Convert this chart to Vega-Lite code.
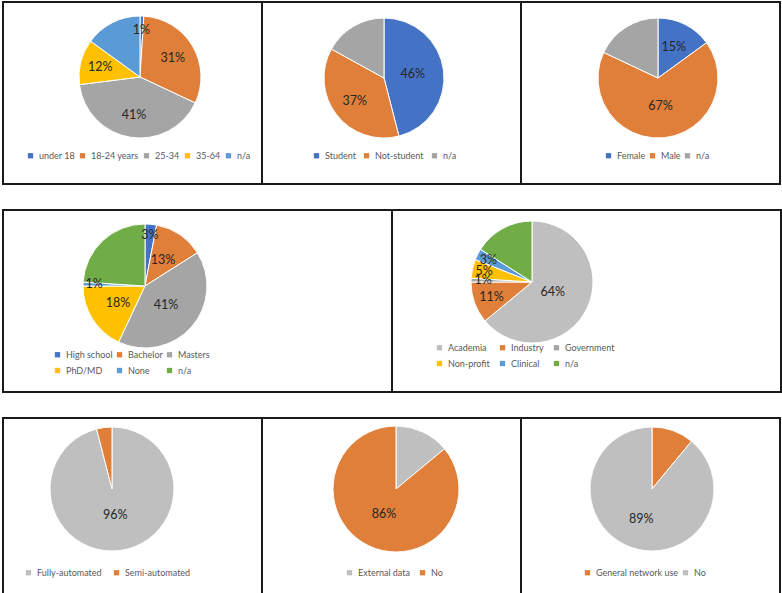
{
  "$schema": "https://vega.github.io/schema/vega-lite/v6.json",
  "padding": {"left": 2, "top": 1, "right": 0, "bottom": 0},
  "background": "white",
  "config": {
    "view": {"stroke": "#1a1a1a", "strokeWidth": 2},
    "concat": {"spacing": 0},
    "legend": {
      "symbolType": "square", "symbolSize": 28, "symbolStrokeWidth": 0,
      "labelFont": "Lato", "labelFontSize": 9, "labelColor": "#595959",
      "columnPadding": 7, "rowPadding": 6, "labelOffset": 4, "padding": 0
    },
    "text": {"font": "Lato", "fontSize": 12.5, "color": "#262626"}
  },
  "datasets": {
    "age": [
      {"cat": "under 18", "value": 1, "idx": 1, "label": "1%"},
      {"cat": "18-24 years", "value": 31, "idx": 2, "label": "31%"},
      {"cat": "25-34", "value": 41, "idx": 3, "label": "41%"},
      {"cat": "35-64", "value": 12, "idx": 4, "label": "12%"},
      {"cat": "n/a", "value": 15, "idx": 5, "label": ""}
    ],
    "student": [
      {"cat": "Student", "value": 46, "idx": 1, "label": "46%"},
      {"cat": "Not-student", "value": 37, "idx": 2, "label": "37%"},
      {"cat": "n/a", "value": 17, "idx": 3, "label": ""}
    ],
    "gender": [
      {"cat": "Female", "value": 15, "idx": 1, "label": "15%"},
      {"cat": "Male", "value": 67, "idx": 2, "label": "67%"},
      {"cat": "n/a", "value": 18, "idx": 3, "label": ""}
    ],
    "edu": [
      {"cat": "High school", "value": 3, "idx": 1, "label": "3%"},
      {"cat": "Bachelor", "value": 13, "idx": 2, "label": "13%"},
      {"cat": "Masters", "value": 41, "idx": 3, "label": "41%"},
      {"cat": "PhD/MD", "value": 18, "idx": 4, "label": "18%"},
      {"cat": "None", "value": 1, "idx": 5, "label": "1%"},
      {"cat": "n/a", "value": 24, "idx": 6, "label": ""}
    ],
    "sector": [
      {"cat": "Academia", "value": 64, "idx": 1, "label": "64%"},
      {"cat": "Industry", "value": 11, "idx": 2, "label": "11%"},
      {"cat": "Government", "value": 1, "idx": 3, "label": "1%"},
      {"cat": "Non-profit", "value": 5, "idx": 4, "label": "5%"},
      {"cat": "Clinical", "value": 3, "idx": 5, "label": "3%"},
      {"cat": "n/a", "value": 16, "idx": 6, "label": ""}
    ],
    "auto": [
      {"cat": "Fully-automated", "value": 96, "idx": 1, "label": "96%"},
      {"cat": "Semi-automated", "value": 4, "idx": 2, "label": ""}
    ],
    "ext": [
      {"cat": "External data", "value": 14, "idx": 1, "label": ""},
      {"cat": "No", "value": 86, "idx": 2, "label": "86%"}
    ],
    "net": [
      {"cat": "General network use", "value": 11, "idx": 1, "label": ""},
      {"cat": "No", "value": 89, "idx": 2, "label": "89%"}
    ]
  },
  "spacing": 24,
  "resolve": {"scale": {"color": "independent", "theta": "independent"}, "legend": {"color": "independent"}},
  "vconcat": [
    {
      "bounds": "flush",
      "resolve": {"scale": {"color": "independent", "theta": "independent"}, "legend": {"color": "independent"}},
      "hconcat": [
        {
          "width": 259, "height": 182,
          "view": {"stroke": "#1a1a1a", "strokeWidth": 2},
          "data": {"name": "age"},
          "encoding": {"theta": {"field": "value", "type": "quantitative", "stack": true}, "order": {"field": "idx", "type": "quantitative"}},
          "layer": [
            {"mark": {"type": "arc", "outerRadius": 61, "x": 137, "y": 75, "stroke": "white", "strokeWidth": 1},
             "encoding": {"color": {"field": "cat", "type": "nominal",
               "scale": {"domain": ["under 18", "18-24 years", "25-34", "35-64", "n/a"], "range": ["#4472C4", "#E07F3A", "#A5A5A5", "#FFC000", "#5B9BD5"]},
               "legend": {"orient": "none", "legendX": 23, "legendY": 149, "direction": "horizontal", "columnPadding": 3, "title": null}}}},
            {"mark": {"type": "text", "x": 137, "y": 75, "radius": {"expr": "datum.value < 10 ? 47 : datum.value < 20 ? 41 : 38"}},
             "encoding": {"text": {"field": "label"}, "detail": {"field": "cat"}}}
          ]
        },
        {
          "width": 259, "height": 182,
          "view": {"stroke": "#1a1a1a", "strokeWidth": 2},
          "data": {"name": "student"},
          "encoding": {"theta": {"field": "value", "type": "quantitative", "stack": true}, "order": {"field": "idx", "type": "quantitative"}},
          "layer": [
            {"mark": {"type": "arc", "outerRadius": 60, "x": 122, "y": 76, "stroke": "white", "strokeWidth": 1},
             "encoding": {"color": {"field": "cat", "type": "nominal",
               "scale": {"domain": ["Student", "Not-student", "n/a"], "range": ["#4472C4", "#E07F3A", "#A5A5A5"]},
               "legend": {"orient": "none", "legendX": 50, "legendY": 149, "direction": "horizontal", "columnPadding": 6, "title": null}}}},
            {"mark": {"type": "text", "x": 122, "y": 76, "radius": {"expr": "datum.value < 40 ? 37 : 29"}},
             "encoding": {"text": {"field": "label"}, "detail": {"field": "cat"}}}
          ]
        },
        {
          "width": 259, "height": 182,
          "view": {"stroke": "#1a1a1a", "strokeWidth": 2},
          "data": {"name": "gender"},
          "encoding": {"theta": {"field": "value", "type": "quantitative", "stack": true}, "order": {"field": "idx", "type": "quantitative"}},
          "layer": [
            {"mark": {"type": "arc", "outerRadius": 60, "x": 137, "y": 76, "stroke": "white", "strokeWidth": 1},
             "encoding": {"color": {"field": "cat", "type": "nominal",
               "scale": {"domain": ["Female", "Male", "n/a"], "range": ["#4472C4", "#E07F3A", "#A5A5A5"]},
               "legend": {"orient": "none", "legendX": 83, "legendY": 149, "direction": "horizontal", "columnPadding": 2, "title": null}}}},
            {"mark": {"type": "text", "x": 137, "y": 76, "radius": {"expr": "datum.value < 20 ? 35 : 28"}},
             "encoding": {"text": {"field": "label"}, "detail": {"field": "cat"}}}
          ]
        }
      ]
    },
    {
      "bounds": "flush",
      "resolve": {"scale": {"color": "independent", "theta": "independent"}, "legend": {"color": "independent"}},
      "hconcat": [
        {
          "width": 389, "height": 182,
          "view": {"stroke": "#1a1a1a", "strokeWidth": 2},
          "data": {"name": "edu"},
          "encoding": {"theta": {"field": "value", "type": "quantitative", "stack": true}, "order": {"field": "idx", "type": "quantitative"}},
          "layer": [
            {"mark": {"type": "arc", "outerRadius": 62, "x": 142, "y": 76, "stroke": "white", "strokeWidth": 1},
             "encoding": {"color": {"field": "cat", "type": "nominal",
               "scale": {"domain": ["High school", "Bachelor", "Masters", "PhD/MD", "None", "n/a"], "range": ["#4472C4", "#E07F3A", "#A5A5A5", "#FFC000", "#5B9BD5", "#70AD47"]},
               "legend": {"orient": "none", "legendX": 50, "legendY": 140, "direction": "horizontal", "columns": 3, "columnPadding": 2, "title": null}}}},
            {"mark": {"type": "text", "x": 142, "y": 76, "radius": {"expr": "datum.value < 10 ? 51 : datum.value < 20 ? 32 : 28"}},
             "encoding": {"text": {"field": "label"}, "detail": {"field": "cat"}}}
          ]
        },
        {
          "width": 389, "height": 182,
          "view": {"stroke": "#1a1a1a", "strokeWidth": 2},
          "data": {"name": "sector"},
          "encoding": {"theta": {"field": "value", "type": "quantitative", "stack": true}, "order": {"field": "idx", "type": "quantitative"}},
          "layer": [
            {"mark": {"type": "arc", "outerRadius": 61, "x": 140, "y": 72, "stroke": "white", "strokeWidth": 1},
             "encoding": {"color": {"field": "cat", "type": "nominal",
               "scale": {"domain": ["Academia", "Industry", "Government", "Non-profit", "Clinical", "n/a"], "range": ["#BFBFBF", "#E07F3A", "#A5A5A5", "#FFC000", "#5B9BD5", "#70AD47"]},
               "legend": {"orient": "none", "legendX": 43, "legendY": 133, "direction": "horizontal", "columns": 3, "columnPadding": 8, "title": null}}}},
            {"mark": {"type": "text", "x": 140, "y": 72, "radius": {"expr": "datum.value < 10 ? 49 : datum.value < 20 ? 43 : 23"}},
             "encoding": {"text": {"field": "label"}, "detail": {"field": "cat"}}}
          ]
        }
      ]
    },
    {
      "bounds": "flush",
      "resolve": {"scale": {"color": "independent", "theta": "independent"}, "legend": {"color": "independent"}},
      "hconcat": [
        {
          "width": 259, "height": 177,
          "view": {"stroke": "#1a1a1a", "strokeWidth": 2},
          "data": {"name": "auto"},
          "encoding": {"theta": {"field": "value", "type": "quantitative", "stack": true}, "order": {"field": "idx", "type": "quantitative"}},
          "layer": [
            {"mark": {"type": "arc", "outerRadius": 62, "x": 109, "y": 71, "stroke": "white", "strokeWidth": 1},
             "encoding": {"color": {"field": "cat", "type": "nominal",
               "scale": {"domain": ["Fully-automated", "Semi-automated"], "range": ["#BFBFBF", "#E07F3A"]},
               "legend": {"orient": "none", "legendX": 21, "legendY": 150, "direction": "horizontal", "columnPadding": 10, "title": null}}}},
            {"mark": {"type": "text", "x": 109, "y": 71, "radius": 26},
             "encoding": {"text": {"field": "label"}, "detail": {"field": "cat"}}}
          ]
        },
        {
          "width": 259, "height": 177,
          "view": {"stroke": "#1a1a1a", "strokeWidth": 2},
          "data": {"name": "ext"},
          "encoding": {"theta": {"field": "value", "type": "quantitative", "stack": true}, "order": {"field": "idx", "type": "quantitative"}},
          "layer": [
            {"mark": {"type": "arc", "outerRadius": 63, "x": 134, "y": 71, "stroke": "white", "strokeWidth": 1},
             "encoding": {"color": {"field": "cat", "type": "nominal",
               "scale": {"domain": ["External data", "No"], "range": ["#BFBFBF", "#E07F3A"]},
               "legend": {"orient": "none", "legendX": 83, "legendY": 150, "direction": "horizontal", "columnPadding": 8, "title": null}}}},
            {"mark": {"type": "text", "x": 134, "y": 71, "radius": 28},
             "encoding": {"text": {"field": "label"}, "detail": {"field": "cat"}}}
          ]
        },
        {
          "width": 259, "height": 177,
          "view": {"stroke": "#1a1a1a", "strokeWidth": 2},
          "data": {"name": "net"},
          "encoding": {"theta": {"field": "value", "type": "quantitative", "stack": true}, "order": {"field": "idx", "type": "quantitative"}},
          "layer": [
            {"mark": {"type": "arc", "outerRadius": 62, "x": 131, "y": 71, "stroke": "white", "strokeWidth": 1},
             "encoding": {"color": {"field": "cat", "type": "nominal",
               "scale": {"domain": ["General network use", "No"], "range": ["#E07F3A", "#BFBFBF"]},
               "legend": {"orient": "none", "legendX": 62, "legendY": 150, "direction": "horizontal", "columnPadding": 2, "title": null}}}},
            {"mark": {"type": "text", "x": 131, "y": 71, "radius": 32},
             "encoding": {"text": {"field": "label"}, "detail": {"field": "cat"}}}
          ]
        }
      ]
    }
  ]
}
